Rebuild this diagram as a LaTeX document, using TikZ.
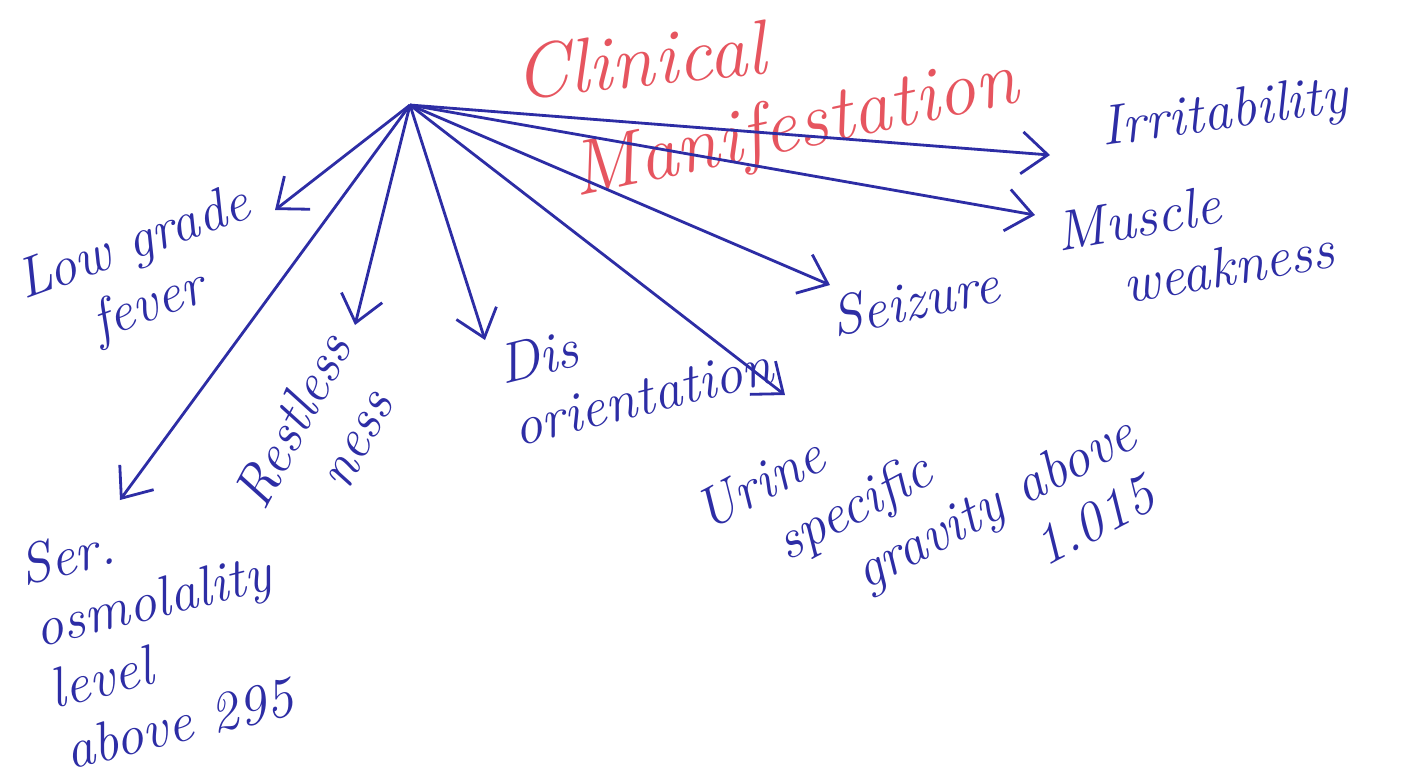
\documentclass[tikz,border=0pt]{standalone}
\usepackage{fontspec}
\usetikzlibrary{arrows.meta}
\definecolor{penblue}{RGB}{45,45,165}
\definecolor{penred}{RGB}{230,85,95}
\tikzset{
    sign/.style={text=penblue, font=\fontsize{16}{18}\selectfont\itshape, align=left, inner sep=1pt},
    title/.style={text=penred, font=\fontsize{22}{24}\selectfont\itshape},
    branch/.style={->, penblue, thick, >={Straight Barb[length=2.6mm,width=4.2mm]}}
}
\begin{document}
\begin{tikzpicture}
    \useasboundingbox (0,0) rectangle (14.13,-7.78);

    % Centre of the fan and the arrow tips
    \coordinate (hub) at (4.1,-1.05);
    \coordinate (fever-tip) at (2.75,-2.1);
    \coordinate (restless-tip) at (3.55,-3.25);
    \coordinate (disor-tip) at (4.85,-3.4);
    \coordinate (urine-tip) at (7.85,-3.95);
    \coordinate (seiz-tip) at (8.3,-2.85);
    \coordinate (irrit-tip) at (10.5,-1.55);
    \coordinate (musc-tip) at (10.35,-2.15);
    \coordinate (serum-tip) at (1.2,-5.0);

    % Title
    \node[title, rotate=6] (clin) at (6.4,-0.6) {Clinical};
    \node[title, rotate=12] (manif) at (7.95,-1.3) {Manifestation};

    % Signs
    \node[sign, rotate=20] (fever) at (1.45,-2.75) {Low grade\\\quad fever};
    \node[sign, rotate=62] (restless) at (3.2,-4.35) {Restless\\\quad ness};
    \node[sign, rotate=14] (disor) at (6.35,-3.65) {Dis\\orientation};
    \node[sign, rotate=28] (urine) at (9.3,-5.0) {Urine\\\quad specific\\\qquad gravity above\\\qquad\qquad\quad 1.015};
    \node[sign, rotate=12] (seiz) at (9.15,-3.0) {Seizure};
    \node[sign, rotate=8] (irrit) at (12.25,-1.15) {Irritability};
    \node[sign, rotate=10] (musc) at (11.95,-2.4) {Muscle\\\quad weakness};
    \node[sign, rotate=14] (serum) at (1.6,-6.3) {Ser.\\osmolality\\level\\above 295};

    % Arrows from the centre
    \foreach \t in {fever, restless, disor, urine, seiz, irrit, musc, serum} {
        \draw[branch] (hub) -- (\t-tip);
    }
\end{tikzpicture}
\end{document}
